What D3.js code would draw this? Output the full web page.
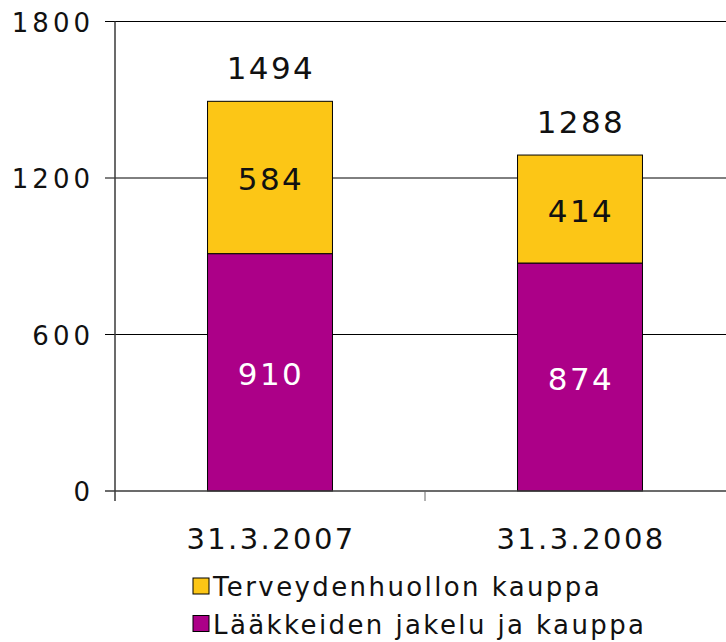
<!DOCTYPE html>
<html>
<head>
    <meta http-equiv="Content-Type" content="text/html;charset=utf8" />
    <title>Stacked bars</title>
    <script src="https://d3js.org/d3.v7.min.js"></script>
    <style>
        body { margin: 0; background: #fff; font-family: "DejaVu Sans", sans-serif; }
        text { letter-spacing: 2.4px; }
    </style>
</head>
<body>

<div id="chart"></div>

<script>
    // data
    var categories = ["31.3.2007", "31.3.2008"];
    var laakkeet = [910, 874];      // bottom segment
    var terveys = [584, 414];       // top segment
    var seriesNames = ["Terveydenhuollon kauppa", "Lääkkeiden jakelu ja kauppa"];
    var seriesColors = ["#fcc616", "#ac0088"];
    var yTicks = [0, 600, 1200, 1800];

    var W = 726, H = 642;
    var svg = d3.select("#chart").append("svg").attr("width", W).attr("height", H);

    var y = d3.scaleLinear().domain([0, 1800]).range([491, 21.5]);
    var x = d3.scaleBand().domain(categories).range([115, 735]);
    var barW = x.bandwidth() * 0.403;

    var rows = categories.map(function(c, i) {
        return { cat: c, low: laakkeet[i], high: terveys[i], total: laakkeet[i] + terveys[i] };
    });

    // gridlines + left ticks
    svg.append("g").selectAll("line").data(yTicks.slice(1)).enter().append("line")
        .attr("x1", 105).attr("x2", W)
        .attr("y1", function(d) { return y(d); }).attr("y2", function(d) { return y(d); })
        .attr("stroke", "#000").attr("stroke-width", 1);

    svg.append("g").selectAll("text").data(yTicks).enter().append("text")
        .attr("x", 94).attr("y", function(d) { return y(d) + 10; })
        .attr("text-anchor", "end").attr("font-size", 26).attr("fill", "#111")
        .style("letter-spacing", "4px")
        .text(function(d) { return d; });

    // bars
    var bar = svg.append("g").selectAll("g").data(rows).enter().append("g");
    bar.append("rect")
        .attr("x", function(d) { return x(d.cat) + (x.bandwidth() - barW) / 2; })
        .attr("width", barW)
        .attr("y", function(d) { return y(d.low); })
        .attr("height", function(d) { return y(0) - y(d.low); })
        .attr("fill", seriesColors[1]).attr("stroke", "#000").attr("stroke-width", 1);
    bar.append("rect")
        .attr("x", function(d) { return x(d.cat) + (x.bandwidth() - barW) / 2; })
        .attr("width", barW)
        .attr("y", function(d) { return y(d.total); })
        .attr("height", function(d) { return y(d.low) - y(d.total); })
        .attr("fill", seriesColors[0]).attr("stroke", "#000").attr("stroke-width", 1);

    var cx = function(d) { return x(d.cat) + x.bandwidth() / 2 + 1; };
    bar.append("text").attr("x", cx)
        .attr("y", function(d) { return (y(0) + y(d.low)) / 2 + 13; })
        .attr("text-anchor", "middle").attr("font-size", 31).attr("fill", "#fff")
        .text(function(d) { return d.low; });
    bar.append("text").attr("x", cx)
        .attr("y", function(d) { return (y(d.low) + y(d.total)) / 2 + 13; })
        .attr("text-anchor", "middle").attr("font-size", 31).attr("fill", "#111")
        .text(function(d) { return d.high; });
    bar.append("text").attr("x", cx)
        .attr("y", function(d) { return y(d.total) - 22; })
        .attr("text-anchor", "middle").attr("font-size", 31).attr("fill", "#111")
        .text(function(d) { return d.total; });

    // axes
    svg.append("line").attr("x1", 115).attr("x2", 115).attr("y1", y(1800)).attr("y2", 501)
        .attr("stroke", "#3a3a3a").attr("stroke-width", 1.5);
    svg.append("line").attr("x1", 105).attr("x2", W).attr("y1", 491).attr("y2", 491)
        .attr("stroke", "#3a3a3a").attr("stroke-width", 1.5);
    svg.append("g").selectAll("line").data(categories.slice(1)).enter().append("line")
        .attr("x1", function(d) { return x(d); }).attr("x2", function(d) { return x(d); })
        .attr("y1", 491).attr("y2", 501).attr("stroke", "#666").attr("stroke-width", 1);

    svg.append("g").selectAll("text").data(categories).enter().append("text")
        .attr("x", function(d) { return x(d) + x.bandwidth() / 2 + 1; }).attr("y", 549)
        .attr("text-anchor", "middle").attr("font-size", 29).attr("fill", "#111")
        .text(function(d) { return d; });

    // legend
    var lg = svg.append("g").selectAll("g").data(seriesNames).enter().append("g")
        .attr("transform", function(d, i) { return "translate(193," + (578 + i * 37.5) + ")"; });
    lg.append("rect").attr("width", 16).attr("height", 16)
        .attr("fill", function(d, i) { return seriesColors[i]; })
        .attr("stroke", "#000").attr("stroke-width", 1);
    lg.append("text").attr("x", 20).attr("y", 18).attr("font-size", 26).attr("fill", "#111")
        .text(function(d) { return d; });
</script>

</body>
</html>
